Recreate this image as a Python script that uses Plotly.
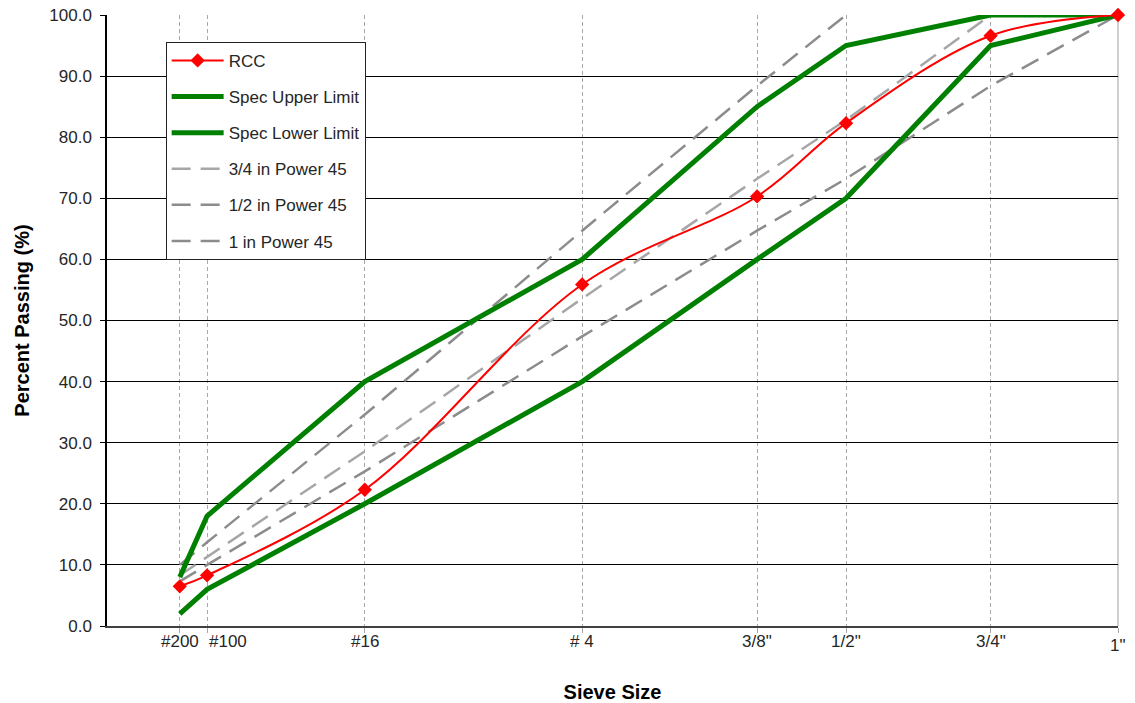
import plotly.graph_objects as go

# Sieve positions on a 0.45-power x-scale (inches^0.45)
sieve_labels = ['#200', '#100', '#16', '# 4', '3/8"', '1/2"', '3/4"', '1"']
sieve_x = [0.072, 0.099, 0.255, 0.470, 0.643, 0.731, 0.874, 1.0]

rcc = [6.5, 8.3, 22.3, 55.9, 70.3, 82.3, 96.6, 100.0]
spec_upper = [8.0, 18.0, 40.0, 60.0, 85.0, 95.0, 100.0, 100.0]
spec_lower = [2.0, 6.0, 20.0, 40.0, 60.0, 70.0, 95.0, 100.0]
p45_34 = [8.3, 11.3, 28.6, 53.6, 73.2, 82.8, 100.0, None]
p45_12 = [10.0, 13.7, 34.6, 64.7, 88.4, 100.0, None, None]
p45_1 = [7.3, 10.0, 25.3, 47.4, 64.7, 73.2, 88.4, 100.0]

FONT = 'Liberation Sans, Arial, sans-serif'

fig = go.Figure()

def add(name, y, color, width, rank, dash=None, shape='linear', marker=None):
    fig.add_trace(go.Scatter(
        x=sieve_x, y=y, name=name, mode='lines+markers' if marker else 'lines',
        line=dict(color=color, width=width, dash=dash, shape=shape, smoothing=1.0),
        marker=marker, cliponaxis=False, legendgroup=name, legendrank=rank,
    ))

add('3/4 in Power 45', p45_34, '#A6A6A6', 2.5, 4, dash='19px,10px')
add('1/2 in Power 45', p45_12, '#8C8C8C', 2.5, 5, dash='19px,10px')
add('1 in Power 45', p45_1, '#8C8C8C', 2.5, 6, dash='19px,10px')
add('Spec Upper Limit', spec_upper, '#008000', 5, 2)
add('Spec Lower Limit', spec_lower, '#008000', 5, 3)
add('RCC', rcc, '#FF0000', 2, 1, shape='spline',
    marker=dict(symbol='diamond', size=11, color='#FF0000'))

fig.update_layout(
    width=1135, height=703,
    margin=dict(l=107, r=17, t=15, b=77, autoexpand=False),
    paper_bgcolor='white', plot_bgcolor='white',
    font=dict(family=FONT, size=17, color='#262626'),
    legend=dict(
        x=0.058, y=0.956, xanchor='left', yanchor='top',
        bgcolor='white', bordercolor='#222', borderwidth=1,
        font=dict(size=17, color='#262626'),
        traceorder='grouped', tracegroupgap=11, itemwidth=52,
    ),
    xaxis=dict(
        range=[0, 1], tickvals=sieve_x, showticklabels=False,
        showgrid=True, gridcolor='#A8A8A8', griddash='4px,3px', gridwidth=1,
        zeroline=False, showline=True, linecolor='#404040', linewidth=1.5,
        ticks='outside', ticklen=5, tickcolor='#A8A8A8',
        automargin=False,
        title=dict(text='<b>Sieve Size</b>', font=dict(size=20, color='#000'), standoff=54),
    ),
    yaxis=dict(
        range=[0, 100], dtick=10, tickformat='.1f', ticklabelstandoff=5,
        showgrid=True, gridcolor='#000000', gridwidth=1,
        zeroline=False, showline=True, linecolor='#000000', linewidth=1.5,
        ticks='outside', ticklen=5, tickcolor='#000', automargin=False,
        title=dict(text='<b>Percent Passing (%)</b>', font=dict(size=20, color='#000'), standoff=14),
    ),
)

# sieve tick labels (the crowded #100 label sits to the right of its tick, as in the original)
for lbl, xv in zip(sieve_labels, sieve_x):
    fig.add_annotation(
        x=xv, y=0, xref='x', yref='paper', text=lbl, showarrow=False,
        xanchor='left' if lbl == '#100' else 'center', yanchor='top',
        yshift=-8 if lbl == '1"' else -4,
        font=dict(family=FONT, size=17, color='#262626'),
    )

fig.add_shape(type='line', xref='paper', yref='paper', x0=1, x1=1, y0=0, y1=1,
              line=dict(color='#A0A0A0', width=1), layer='below')

fig.write_html('out.html')
